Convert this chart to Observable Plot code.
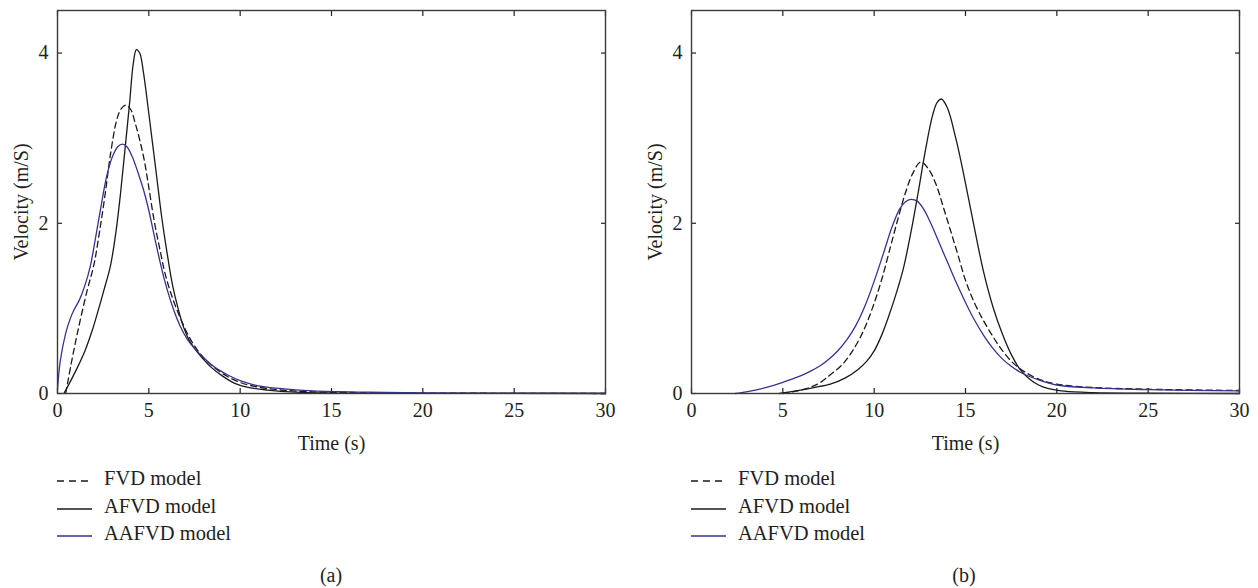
<!DOCTYPE html>
<html><head><meta charset="utf-8">
<script src="https://cdn.jsdelivr.net/npm/d3@7"></script>
<script src="https://cdn.jsdelivr.net/npm/@observablehq/plot@0.6"></script>
<style>
body{margin:0;background:#fff;font-family:"Liberation Serif",serif;color:#231f20;}
#root{position:relative;width:1258px;height:588px;overflow:hidden;background:#fff;}
#root svg, #root svg text{font-family:"Liberation Serif",serif !important;}
.panel{position:absolute;top:0;}
.row{position:absolute;white-space:nowrap;font-size:20.5px;line-height:20px;}
.sample{position:absolute;}
.cap{position:absolute;font-size:20px;line-height:20px;transform:translateX(-50%);}
</style></head><body><div id="root"></div>
<script>
// ---- tick labels ----
const xTicks = [0, 5, 10, 15, 20, 25, 30];
const yTicks = [0, 2, 4];
const seriesNames = ["FVD model", "AFVD model", "AAFVD model"];
const panelCaptions = ["(a)", "(b)"];
const xLabel = "Time (s)";
const yLabel = "Velocity (m/S)";

// ---- panel (a) ----
const tA_FVD = [0.45, 0.75, 1.1, 1.6, 2.0, 2.3, 2.6, 2.9, 3.25, 3.5, 3.75, 4.0, 4.25, 4.5, 4.75, 5.0, 5.3, 5.6, 5.9, 6.3, 6.8, 7.3, 8.0, 9.0, 10, 11, 12, 14, 17, 20, 25, 30];
const vA_FVD = [0, 0.35, 0.72, 1.19, 1.52, 1.9, 2.33, 2.81, 3.22, 3.35, 3.39, 3.34, 3.18, 2.98, 2.74, 2.42, 2.02, 1.7, 1.4, 1.12, 0.85, 0.63, 0.42, 0.24, 0.13, 0.075, 0.045, 0.02, 0.01, 0.005, 0.002, 0];
const tA_AFVD = [0.35, 0.7, 1.1, 1.5, 1.9, 2.3, 2.6, 2.9, 3.2, 3.45, 3.7, 3.95, 4.15, 4.32, 4.5, 4.7, 4.9, 5.15, 5.4, 5.7, 6.0, 6.3, 6.6, 6.9, 7.2, 7.6, 8.0, 8.4, 9.0, 9.7, 10.5, 11.5, 13, 15, 20, 30];
const vA_AFVD = [0, 0.14, 0.31, 0.5, 0.74, 1.03, 1.26, 1.5, 1.9, 2.35, 2.88, 3.42, 3.88, 4.04, 4.0, 3.78, 3.46, 3.03, 2.6, 2.08, 1.65, 1.27, 1.0, 0.78, 0.63, 0.5, 0.4, 0.31, 0.21, 0.12, 0.07, 0.04, 0.015, 0.005, 0.002, 0];
const tA_AAFVD = [0, 0.15, 0.45, 0.7, 0.9, 1.2, 1.5, 1.8, 2.1, 2.4, 2.7, 3.0, 3.3, 3.55, 3.8, 4.1, 4.4, 4.7, 5.0, 5.3, 5.6, 5.9, 6.3, 6.7, 7.1, 7.5, 8.0, 8.6, 9.3, 10, 11, 12.4, 14, 17, 20, 25, 30];
const vA_AAFVD = [0.05, 0.38, 0.71, 0.88, 0.98, 1.1, 1.27, 1.5, 1.85, 2.22, 2.56, 2.78, 2.9, 2.93, 2.9, 2.78, 2.6, 2.4, 2.15, 1.85, 1.56, 1.3, 1.02, 0.8, 0.64, 0.53, 0.42, 0.31, 0.22, 0.15, 0.09, 0.055, 0.03, 0.015, 0.008, 0.004, 0.002];

// ---- panel (b) ----
const tB_FVD = [5.0, 6.0, 6.9, 7.6, 8.3, 8.9, 9.4, 9.9, 10.4, 10.9, 11.3, 11.7, 12.1, 12.55, 13.0, 13.4, 13.8, 14.2, 14.6, 15.0, 15.5, 16.0, 16.5, 17.0, 17.6, 18.2, 19.0, 20, 22, 25, 30];
const vB_FVD = [0, 0.04, 0.11, 0.22, 0.35, 0.53, 0.73, 1.0, 1.33, 1.73, 2.05, 2.35, 2.58, 2.72, 2.63, 2.45, 2.18, 1.9, 1.62, 1.33, 1.06, 0.85, 0.67, 0.51, 0.36, 0.26, 0.17, 0.11, 0.07, 0.05, 0.035];
const tB_AFVD = [4.8, 5.8, 6.7, 7.6, 8.4, 9.1, 9.6, 10.0, 10.4, 10.8, 11.2, 11.6, 12.0, 12.4, 12.8, 13.2, 13.45, 13.68, 14.0, 14.5, 15.0, 15.5, 16.0, 16.5, 17.0, 17.5, 18.0, 18.5, 19.0, 19.5, 20.4, 22, 25, 30];
const vB_AFVD = [0, 0.035, 0.07, 0.11, 0.18, 0.28, 0.38, 0.5, 0.68, 0.91, 1.17, 1.47, 1.88, 2.35, 2.85, 3.27, 3.42, 3.46, 3.36, 2.97, 2.47, 1.93, 1.42, 1.02, 0.71, 0.46, 0.28, 0.17, 0.1, 0.06, 0.027, 0.01, 0.004, 0];
const tB_AAFVD = [2.4, 3.0, 3.5, 4.0, 4.5, 5.0, 5.5, 6.0, 6.5, 7.0, 7.5, 8.0, 8.5, 9.0, 9.5, 10.0, 10.5, 11.0, 11.4, 11.7, 12.0, 12.35, 12.7, 13.1, 13.5, 14.0, 14.5, 15.0, 15.5, 16.0, 16.5, 17.0, 17.5, 18.0, 18.5, 19.0, 20, 22, 25, 30];
const vB_AAFVD = [0, 0.02, 0.04, 0.065, 0.095, 0.13, 0.17, 0.21, 0.26, 0.32, 0.4, 0.5, 0.63, 0.8, 1.03, 1.32, 1.64, 1.97, 2.17, 2.25, 2.28, 2.26, 2.17, 2.0, 1.8, 1.55, 1.3, 1.07, 0.86, 0.68, 0.53, 0.41, 0.32, 0.25, 0.2, 0.16, 0.1, 0.065, 0.045, 0.03];

const styles = [
  {stroke: "#1a1a1a", strokeDasharray: "6,4"},
  {stroke: "#1a1a1a", strokeDasharray: null},
  {stroke: "#35338f", strokeDasharray: null}
];

const zip = (t, v) => t.map((d, i) => ({t: d, v: v[i]}));
const fmt = d3.format("d");

function makePanel(series, ml, mr) {
  return Plot.plot({
    width: 629, height: 455,
    marginLeft: ml, marginRight: mr, marginTop: 10, marginBottom: 62,
    style: {fontFamily: "Liberation Serif", fontSize: "20px", color: "#231f20", background: "transparent", overflow: "visible"},
    x: {domain: [0, 30]},
    y: {domain: [0, 4.5]},
    marks: [
      Plot.axisX(xTicks, {anchor: "bottom", tickSize: -5, tickPadding: 14.5, tickFormat: fmt, label: xLabel, labelAnchor: "center", labelArrow: "none", labelOffset: 56, strokeWidth: 1.2}),
      Plot.axisX(xTicks, {anchor: "top", tickSize: -5, tickFormat: () => "", label: null, strokeWidth: 1.2}),
      Plot.axisY(yTicks, {anchor: "left", tickSize: -5, tickPadding: 14, tickFormat: fmt, label: yLabel, labelAnchor: "center", labelArrow: "none", labelOffset: 44, strokeWidth: 1.2}),
      Plot.axisY(yTicks, {anchor: "right", tickSize: -5, tickFormat: () => "", label: null, strokeWidth: 1.2}),
      ...series.map((s, i) => Plot.line(s, {x: "t", y: "v", curve: "catmull-rom", strokeWidth: 1.3, ...styles[i]})),
      Plot.frame({stroke: "#3a3a3a", strokeWidth: 1.4})
    ]
  });
}

const root = document.getElementById("root");
const panels = [
  {left: 0, ml: 57, mr: 24, series: [zip(tA_FVD, vA_FVD), zip(tA_AFVD, vA_AFVD), zip(tA_AAFVD, vA_AAFVD)], legendX: 57, capX: 331},
  {left: 629, ml: 62, mr: 19, series: [zip(tB_FVD, vB_FVD), zip(tB_AFVD, vB_AFVD), zip(tB_AAFVD, vB_AAFVD)], legendX: 691, capX: 964}
];
const rowTops = [468, 496, 523];
panels.forEach((p, pi) => {
  const div = document.createElement("div");
  div.className = "panel";
  div.style.left = p.left + "px";
  div.appendChild(makePanel(p.series, p.ml, p.mr));
  root.appendChild(div);
  seriesNames.forEach((name, i) => {
    const svgNS = "http://www.w3.org/2000/svg";
    const sv = document.createElementNS(svgNS, "svg");
    sv.setAttribute("width", 36); sv.setAttribute("height", 6);
    sv.setAttribute("class", "sample");
    sv.style.left = p.legendX + "px";
    sv.style.top = (rowTops[i] + 13 - 3) + "px";
    const ln = document.createElementNS(svgNS, "line");
    ln.setAttribute("x1", 0); ln.setAttribute("x2", 35); ln.setAttribute("y1", 3); ln.setAttribute("y2", 3);
    ln.setAttribute("stroke", styles[i].stroke); ln.setAttribute("stroke-width", 1.3);
    if (styles[i].strokeDasharray) ln.setAttribute("stroke-dasharray", "7,5");
    sv.appendChild(ln);
    root.appendChild(sv);
    const r = document.createElement("div");
    r.className = "row";
    r.style.left = (p.legendX + 47) + "px";
    r.style.top = rowTops[i] + "px";
    r.textContent = name;
    root.appendChild(r);
  });
  const c = document.createElement("div");
  c.className = "cap";
  c.style.left = p.capX + "px";
  c.style.top = "565px";
  c.textContent = panelCaptions[pi];
  root.appendChild(c);
});
</script></body></html>
